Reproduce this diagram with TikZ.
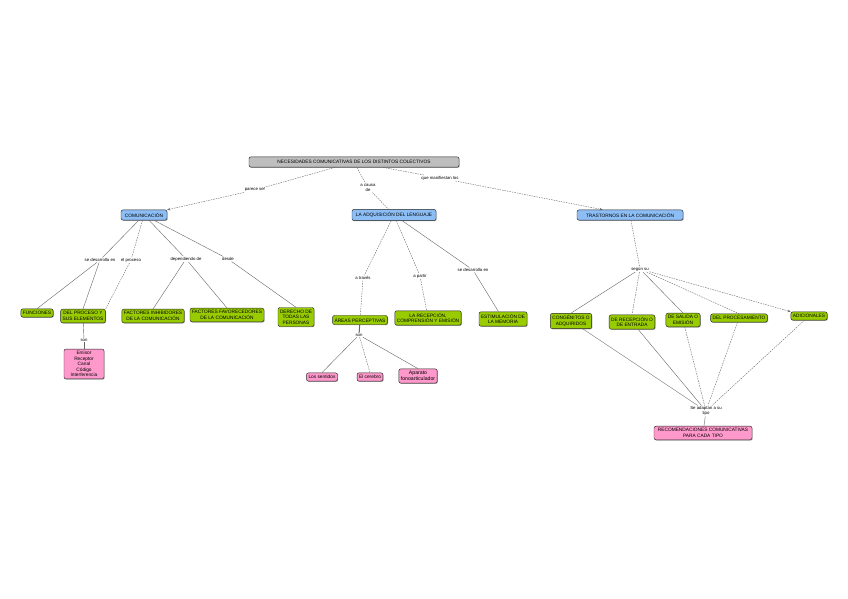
\documentclass[tikz,border=0pt]{standalone}
\usepackage{fontspec}
\setmainfont{Liberation Sans}
\usetikzlibrary{arrows.meta,shadows}
\definecolor{cgreen}{RGB}{153,204,0}
\definecolor{cblue}{RGB}{140,190,245}
\definecolor{cpink}{RGB}{255,153,204}
\definecolor{cgray}{RGB}{190,190,190}
\begin{document}
\begin{tikzpicture}[x=1pt,y=-1pt,
  font=\fontsize{4.8}{5.4}\selectfont,
  box/.style={draw=black!85,rounded corners=2pt,inner xsep=2pt,inner ysep=2.4pt,align=center,line width=0.45pt,drop shadow={shadow xshift=0.7pt,shadow yshift=-0.7pt,fill=black!65}},
  rootbox/.style={box,fill=cgray,inner ysep=3.5pt},
  bluebox/.style={box,fill=cblue,inner ysep=3pt},
  greenbox/.style={box,fill=cgreen},
  pinkbox/.style={box,fill=cpink},
  lbl/.style={fill=white,inner sep=0.8pt,align=center,font=\fontsize{4.3}{4.9}\selectfont},
  conn/.style={draw=black!60,line width=0.4pt},
  dconn/.style={conn,dashed,dash pattern=on 1.5pt off 1pt},
  arr/.style={-{Stealth[length=3pt,width=2.5pt]}}
]
\useasboundingbox (0,0) rectangle (848,599);
\fill[white] (0,0) rectangle (848,599);

% nodes
\node[rootbox,minimum width=210pt] (root) at (354,162) {NECESIDADES COMUNICATIVAS DE LOS DISTINTOS COLECTIVOS};
\node[bluebox,minimum width=46pt] (com) at (144,215) {COMUNICACIÓN};
\node[bluebox,minimum width=84pt] (adq) at (394,215) {LA ADQUISICIÓN DEL LENGUAJE};
\node[bluebox,minimum width=106pt] (tra) at (630,215) {TRASTORNOS EN LA COMUNICACIÓN};

\node[lbl] (l1) at (255,190) {parece ser};
\node[lbl] (l2) at (368,188) {a causa\\de};
\node[lbl] (l3) at (440,178) {que manifiestan los};

% left branch
\node[lbl] (c1) at (100,260) {se desarrolla en};
\node[lbl] (c2) at (131,260) {el proceso};
\node[lbl] (c3) at (186,259) {dependiendo de};
\node[lbl] (c4) at (228,259) {desde};

\node[greenbox] (fun) at (37,313) {FUNCIONES};
\node[greenbox] (pro) at (83,316) {DEL PROCESO Y\\SUS ELEMENTOS};
\node[greenbox] (inh) at (153,316) {FACTORES INHIBIDORES\\DE LA COMUNICACIÓN};
\node[greenbox] (fav) at (227,315) {FACTORES FAVORECEDORES\\DE LA COMUNICACIÓN};
\node[greenbox] (der) at (296,317) {DERECHO DE\\TODAS LAS\\PERSONAS};
\node[lbl] (son1) at (84,340) {son};
\node[pinkbox,minimum width=40pt] (ele) at (84,364) {Emisor\\Receptor\\Canal\\Código\\Interferencia};

% middle branch
\node[lbl] (m1) at (363,278) {a través};
\node[lbl] (m2) at (420,276) {a partir};
\node[lbl] (m3) at (473,270) {se desarrolla en};
\node[greenbox] (per) at (360,320) {ÁREAS PERCEPTIVAS};
\node[greenbox] (rec) at (428,318) {LA RECEPCIÓN,\\COMPRENSIÓN Y EMISIÓN};
\node[greenbox] (est) at (503,319) {ESTIMULACIÓN DE\\LA MEMORIA};
\node[lbl] (son2) at (359,335) {son};
\node[pinkbox] (sen) at (322,377) {Los sentidos};
\node[pinkbox] (cer) at (370,377) {El cerebro};
\node[pinkbox,font=\fontsize{5.2}{5.8}\selectfont] (apa) at (418,376) {Aparato\\fonoarticulador};

% right branch
\node[lbl] (r1) at (640,269) {según su};
\node[greenbox] (con) at (571,321) {CONGÉNITOS O\\ADQUIRIDOS};
\node[greenbox] (dre) at (632,322) {DE RECEPCIÓN O\\DE ENTRADA};
\node[greenbox] (dsa) at (683,320) {DE SALIDA O\\EMISIÓN};
\node[greenbox] (dpr) at (739,318) {DEL PROCESAMIENTO};
\node[greenbox] (adi) at (809,316) {ADICIONALES};
\node[lbl] (r2) at (706,411) {Se adaptan a su\\tipo};
\node[pinkbox,minimum width=98pt] (rco) at (703,433) {RECOMENDACIONES COMUNICATIVAS\\PARA CADA TIPO};

% connectors
\draw[dconn] (root) -- (l1);
\draw[dconn,arr] (l1) -- (com);
\draw[dconn] (root) -- (l2);
\draw[dconn] (l2) -- (adq);
\draw[dconn] (root) -- (l3);
\draw[dconn,arr] (l3) -- (tra);

\draw[conn] (com) -- (c1); \draw[conn] (c1) -- (pro.north);
\draw[conn] (c1) -- (fun.north);
\draw[dconn] (com) -- (c2); \draw[dconn] (c2) -- (pro.north east);
\draw[conn] (com) -- (c3); \draw[conn] (c3) -- (inh.north); \draw[conn] (c3) -- (fav.north);
\draw[conn] (com) -- (c4); \draw[conn] (c4) -- (der.north);
\draw[conn] (pro) -- (son1); \draw[conn] (son1) -- (ele);

\draw[dconn] (adq) -- (m1); \draw[dconn] (m1) -- (per);
\draw[dconn] (adq) -- (m2); \draw[dconn] (m2) -- (rec);
\draw[conn] (adq) -- (m3); \draw[conn] (m3) -- (est);
\draw[conn,line width=1pt,black!60] (per) -- (son2);
\draw[conn] (son2) -- (sen.north);
\draw[dconn] (son2) -- (cer.north);
\draw[conn] (son2) -- (apa.north);

\draw[dconn] (tra) -- (r1);
\draw[conn] (r1) -- (con.north);
\draw[dconn] (r1) -- (dre.north);
\draw[conn] (r1) -- (dsa.north);
\draw[dconn] (r1) -- (dpr.north);
\draw[dconn,arr] (r1) -- (adi.north west);
\draw[conn] (con) -- (r2);
\draw[conn] (dre) -- (r2);
\draw[dconn] (dsa) -- (r2);
\draw[dconn] (dpr) -- (r2);
\draw[dconn] (adi) -- (r2);
\draw[conn] (r2) -- (rco);
\end{tikzpicture}
\end{document}
